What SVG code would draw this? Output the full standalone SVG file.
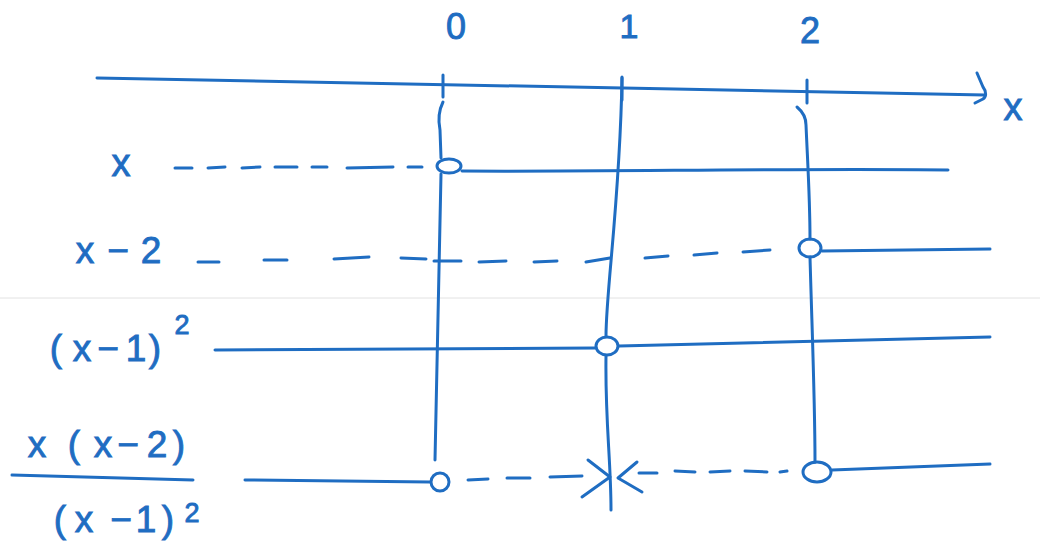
<svg xmlns="http://www.w3.org/2000/svg" width="1040" height="551" viewBox="0 0 1040 551">
<style>
.s{fill:none;stroke:#1f6dc2;stroke-width:3;stroke-linecap:round;stroke-linejoin:round}
.d{fill:none;stroke:#1f6dc2;stroke-width:3;stroke-linecap:round}
.t{fill:#1f6dc2;stroke:#1f6dc2;stroke-width:0.9;font-family:"Liberation Sans","DejaVu Sans",sans-serif;text-anchor:middle}
</style>
<rect width="1040" height="551" fill="#ffffff"/>
<line x1="0" y1="298" x2="1040" y2="298" stroke="#e2e2e2" stroke-width="1"/>
<g id="axis">
<path class="s" d="M97,78 C400,84 700,90 985,95"/>
<path class="s" d="M977,73 L983,87 C987,92 986,97 983,99 L975,103"/>
<text class="t" x="1013" y="120" font-size="38">x</text>
<path class="s" d="M443,75 L443,97 M622,77 L622,100 M807,80 L807,103"/>
<text class="t" x="456" y="39" font-size="36">0</text>
<text class="t" x="629" y="38" font-size="34">1</text>
<text class="t" x="810" y="43" font-size="36">2</text>
</g>
<g id="row-x">
<text class="t" x="121" y="176" font-size="38">x</text>
<ellipse class="s" cx="449" cy="166" rx="12" ry="7"/>
</g>
<g id="row-x-minus-2">
<text class="t" x="85 118 151" y="263" font-size="37">x−2</text>
<ellipse class="s" cx="810" cy="248" rx="11" ry="9"/>
</g>
<g id="row-square">
<text class="t" x="56 82 108 136 155" y="361" font-size="37">(x−1)<tspan x="182" y="334" font-size="27">2</tspan></text>
<ellipse class="s" cx="607" cy="346" rx="11" ry="9"/>
</g>
<g id="row-quotient">
<text class="t" x="37 74 103 128 157 179" y="457" font-size="37">x(x−2)</text>
<path class="s" d="M12,475 C80,477 140,478 193,480"/>
<text class="t" x="60 84 121 146 168" y="532" font-size="37">(x−1)<tspan x="192" y="522" font-size="27">2</tspan></text>
<circle class="s" cx="440" cy="482" r="9"/>
<ellipse class="s" cx="817" cy="472" rx="14" ry="10"/>
<path class="s" d="M588,460 L610,477 L582,497 M637,462 L618,478 L642,492"/>
</g>
<g id="connectors">
<path class="s" d="M443,102 C439,110 438,120 440,130 L441,158"/>
<path class="s" d="M441,174 C439,280 437,380 435,460"/>
<path class="s" d="M622,78 C620,200 606,290 606,336"/>
<path class="s" d="M606,356 C605,420 611,460 611,510"/>
<path class="s" d="M797,107 C803,112 806,118 806,125 C808,170 810,200 810,239"/>
<path class="s" d="M810,257 C812,330 815,400 815,462"/>
<path class="d" d="M175,168 L192,168 M208,168 L225,167 M242,168 L260,167 M275,167 L297,167 M312,167 L327,167 M347,168 L393,167 M408,167 L422,167"/>
<path class="s" d="M462,171 C600,172 800,168 948,170"/>
<path class="d" d="M198,262 L219,262 M264,260 L287,260 M334,259 L369,257 M401,258 L426,259 M434,261 L461,261 M479,262 L506,261 M534,262 L557,261 M586,262 L610,258 M645,258 L668,256 M694,255 L717,253 M743,252 L770,250"/>
<path class="s" d="M822,251 L990,249"/>
<path class="s" d="M215,350 L595,348"/>
<path class="s" d="M619,346 L990,337"/>
<path class="s" d="M245,480 L430,482"/>
<path class="d" d="M468,480 L488,479 M507,478 L530,478 M550,477 L582,476"/>
<path class="d" d="M639,473 L657,473 M675,471 L695,472 M710,472 L730,471 M745,471 L767,472 M780,472 L787,471"/>
<path class="s" d="M832,470 L990,464"/>
</g>
</svg>
